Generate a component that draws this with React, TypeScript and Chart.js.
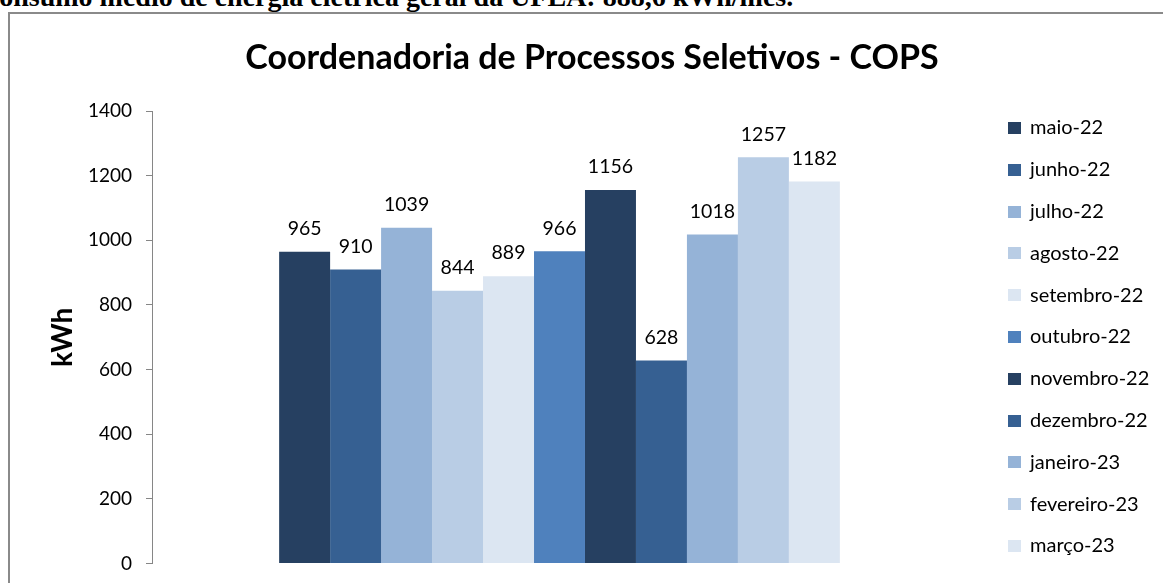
import React, { useEffect, useRef } from "react";
import { Chart, registerables } from "chart.js";

Chart.register(...registerables);

const FONT = "Lato, 'Open Sans', sans-serif";

const categories = [""];
const seriesLabels = [
  "maio-22",
  "junho-22",
  "julho-22",
  "agosto-22",
  "setembro-22",
  "outubro-22",
  "novembro-22",
  "dezembro-22",
  "janeiro-23",
  "fevereiro-23",
  "março-23",
];
const seriesValues = [965, 910, 1039, 844, 889, 966, 1156, 628, 1018, 1257, 1182];
const seriesColors = [
  "#264061",
  "#366092",
  "#95B3D7",
  "#B9CDE5",
  "#DCE6F2",
  "#4F81BD",
  "#264061",
  "#366092",
  "#95B3D7",
  "#B9CDE5",
  "#DCE6F2",
];
const yMin = 0;
const yMax = 1400;
const yStep = 200;
const chartTitle = "Coordenadoria de Processos Seletivos - COPS";
const yAxisTitle = "kWh";
const headerText = "Consumo médio de energia elétrica geral da UFLA: 888,6 kWh/mês.";

const titlePlugin = {
  id: "centeredTitle",
  afterDraw(chart: any) {
    const ctx = chart.ctx;
    ctx.save();
    ctx.font = `bold 34px ${FONT}`;
    ctx.fillStyle = "#000";
    ctx.textAlign = "center";
    ctx.textBaseline = "middle";
    ctx.fillText(chartTitle, 592, 58);
    ctx.restore();
  },
};

const valueLabelPlugin = {
  id: "valueLabels",
  afterDatasetsDraw(chart: any) {
    const ctx = chart.ctx;
    ctx.save();
    ctx.font = `19.5px ${FONT}`;
    ctx.fillStyle = "#000";
    ctx.textAlign = "center";
    ctx.textBaseline = "middle";
    chart.data.datasets.forEach((ds: any, i: number) => {
      const meta = chart.getDatasetMeta(i);
      meta.data.forEach((bar: any, j: number) => {
        ctx.fillText(String(ds.data[j]), bar.x, bar.y - 23);
      });
    });
    ctx.restore();
  },
};

const legendPlugin = {
  id: "sideLegend",
  afterDraw(chart: any) {
    const ctx = chart.ctx;
    ctx.save();
    ctx.font = `20px ${FONT}`;
    ctx.textAlign = "left";
    ctx.textBaseline = "middle";
    chart.data.datasets.forEach((ds: any, i: number) => {
      const cy = 128 + i * 41.8;
      ctx.fillStyle = ds.backgroundColor;
      ctx.fillRect(1008, Math.round(cy - 6), 13, 12);
      ctx.fillStyle = "#000";
      ctx.fillText(ds.label, 1030, cy);
    });
    ctx.restore();
  },
};

function ChartCanvas() {
  const ref = useRef<HTMLCanvasElement | null>(null);
  useEffect(() => {
    if (!ref.current) return;
    const chart = new Chart(ref.current, {
      type: "bar",
      data: {
        labels: categories,
        datasets: seriesLabels.map((label, i) => ({
          label,
          data: [seriesValues[i]],
          backgroundColor: seriesColors[i],
          borderWidth: 0,
          categoryPercentage: 0.688,
          barPercentage: 1,
        })),
      },
      options: {
        responsive: false,
        animation: false,
        layout: { padding: { left: 42, right: 196, top: 111, bottom: 16 } },
        plugins: {
          legend: { display: false },
          title: { display: false },
          tooltip: { enabled: false },
        },
        scales: {
          x: { display: false },
          y: {
            min: yMin,
            max: yMax,
            ticks: {
              stepSize: yStep,
              padding: 14,
              color: "#000",
              font: { family: FONT, size: 19 },
              callback: (v: any) => String(v),
            },
            grid: {
              drawOnChartArea: false,
              drawTicks: true,
              tickLength: 6,
              color: "#868686",
              lineWidth: 1,
            },
            border: { display: true, color: "#868686", width: 1 },
            title: {
              display: true,
              text: yAxisTitle,
              color: "#000",
              font: { family: FONT, size: 28, weight: "bold" },
              padding: { top: 4, bottom: 4 },
            },
            afterFit(scale: any) {
              scale.width = 110;
            },
          },
        },
      },
      plugins: [valueLabelPlugin, titlePlugin, legendPlugin],
    } as any);
    return () => chart.destroy();
  }, []);
  return (
    <canvas
      ref={ref}
      width={1163}
      height={589}
      style={{ position: "absolute", left: 0, top: 0, width: 1163, height: 589 }}
    />
  );
}

export default function App() {
  return (
    <div
      style={{
        position: "absolute",
        left: 0,
        top: 0,
        width: 1163,
        height: 583,
        overflow: "hidden",
        background: "#fff",
      }}
    >
      <div
        style={{
          position: "absolute",
          left: -21,
          top: -17,
          whiteSpace: "nowrap",
          fontFamily: "'Liberation Serif', 'DejaVu Serif', serif",
          fontWeight: "bold",
          fontSize: 28,
          lineHeight: "28px",
          color: "#000",
        }}
      >
        {headerText}
      </div>
      <div
        style={{
          position: "absolute",
          left: 8,
          top: 12,
          width: 1170,
          height: 620,
          border: "2px solid #8a8a8a",
          boxSizing: "border-box",
        }}
      />
      <ChartCanvas />
    </div>
  );
}
